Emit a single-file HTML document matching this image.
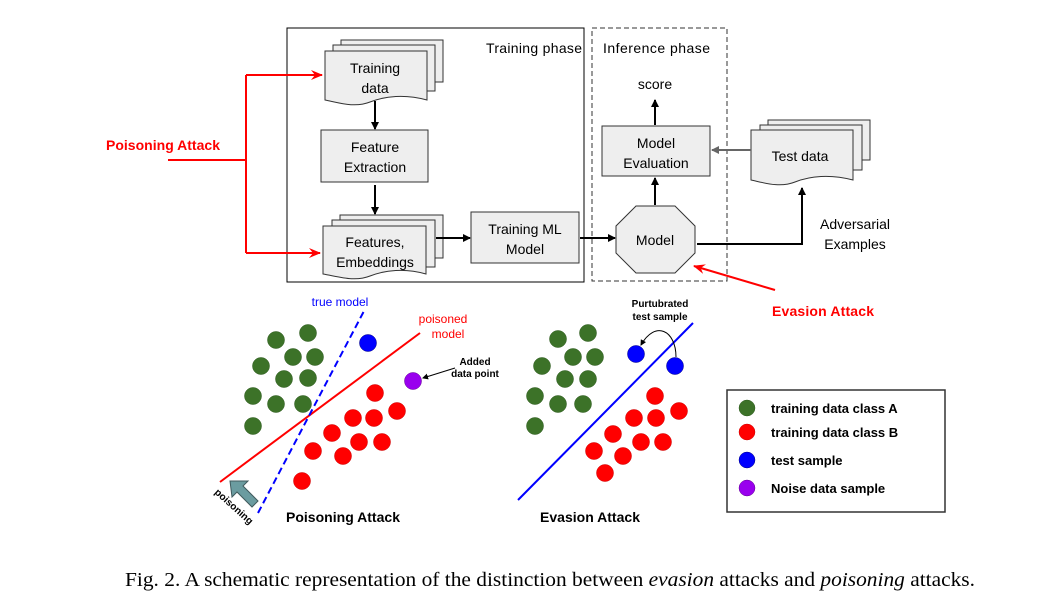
<!DOCTYPE html>
<html><head><meta charset="utf-8"><style>
html,body{margin:0;padding:0;background:#fff;}
svg{display:block;}
text{font-family:"Liberation Sans",sans-serif;}
</style></head><body>
<svg width="1053" height="606" viewBox="0 0 1053 606" xmlns="http://www.w3.org/2000/svg">
<defs>
<marker id="ab" markerWidth="8" markerHeight="8" refX="7" refY="4" orient="auto" markerUnits="userSpaceOnUse"><path d="M0,0 L8,4 L0,8 z" fill="#000"/></marker>
<marker id="ag" markerWidth="8" markerHeight="8" refX="7" refY="4" orient="auto" markerUnits="userSpaceOnUse"><path d="M0,0 L8,4 L0,8 z" fill="#666"/></marker>
<marker id="ar" markerWidth="12" markerHeight="12" refX="11" refY="6" orient="auto" markerUnits="userSpaceOnUse"><path d="M0,1 L12,6 L0,11 L4,6 z" fill="#f00"/></marker>
<marker id="as" markerWidth="6" markerHeight="6" refX="5" refY="3" orient="auto" markerUnits="userSpaceOnUse"><path d="M0,0 L6,3 L0,6 z" fill="#000"/></marker>
</defs>
<rect x="287" y="28" width="297" height="254" fill="none" stroke="#000" stroke-width="1"/>
<rect x="592" y="28" width="135" height="253" fill="none" stroke="#333" stroke-width="1" stroke-dasharray="5,3"/>
<text x="486" y="53" font-size="14" textLength="96">Training phase</text>
<text x="603" y="53" font-size="14" textLength="107">Inference phase</text>
<g stroke="#333" fill="#eee" stroke-width="1">
<rect x="341" y="40" width="102" height="42"/>
<rect x="333" y="45" width="102" height="46"/>
<path d="M325,51 H427 V100 C405,94 385,96 370,102 C355,108 340,103 325,100 Z"/>
<rect x="321" y="130" width="107" height="52"/>
<rect x="340" y="215" width="103" height="43"/>
<rect x="332" y="220" width="103" height="47"/>
<path d="M323,226 H426 V274 C405,268 385,270 370,276 C355,282 340,277 323,274 Z"/>
<rect x="471" y="212" width="108" height="51"/>
<rect x="602" y="126" width="108" height="50"/>
<path d="M636,206 H675 L695,226 V253 L675,273 H636 L616,253 V226 Z"/>
<rect x="768" y="120" width="102" height="40"/>
<rect x="760" y="125" width="102" height="45"/>
<path d="M751,130 H853 V180 C830,174 810,176 795,182 C780,188 765,183 751,180 Z"/>
</g>
<g font-size="14" text-anchor="middle" fill="#000">
<text x="375" y="73">Training</text><text x="375" y="93">data</text>
<text x="375" y="152">Feature</text><text x="375" y="172">Extraction</text>
<text x="375" y="247">Features,</text><text x="375" y="267">Embeddings</text>
<text x="525" y="234">Training ML</text><text x="525" y="254">Model</text>
<text x="656" y="148">Model</text><text x="656" y="168">Evaluation</text>
<text x="655" y="245">Model</text>
<text x="800" y="161">Test data</text>
<text x="655" y="89">score</text>
<text x="855" y="229">Adversarial</text><text x="855" y="249">Examples</text>
</g>
<g stroke="#000" stroke-width="2" fill="none">
<line x1="375" y1="101" x2="375" y2="129" marker-end="url(#ab)"/>
<line x1="375" y1="185" x2="375" y2="214" marker-end="url(#ab)"/>
<line x1="436" y1="238" x2="470" y2="238" marker-end="url(#ab)"/>
<line x1="580" y1="238" x2="615" y2="238" marker-end="url(#ab)"/>
<line x1="655" y1="205" x2="655" y2="178" marker-end="url(#ab)"/>
<line x1="655" y1="125" x2="655" y2="100" marker-end="url(#ab)"/>
<polyline points="697,244 802,244 802,188" marker-end="url(#ab)"/>
</g>
<line x1="751" y1="150" x2="712" y2="150" stroke="#666" stroke-width="2" marker-end="url(#ag)"/>
<text x="106" y="150" font-size="14" font-weight="bold" fill="#f00" textLength="114">Poisoning Attack</text>
<g stroke="#f00" stroke-width="2" fill="none">
<polyline points="168,160 246,160"/>
<polyline points="246,75 246,253"/>
<line x1="246" y1="75" x2="322" y2="75" marker-end="url(#ar)"/>
<line x1="246" y1="253" x2="320" y2="253" marker-end="url(#ar)"/>
<line x1="775" y1="290" x2="694" y2="266" marker-end="url(#ar)"/>
</g>
<text x="772" y="316" font-size="14" font-weight="bold" fill="#f00" textLength="102">Evasion Attack</text>
<rect x="727" y="390" width="218" height="122" fill="#fff" stroke="#333" stroke-width="1.5"/>
<line x1="220" y1="482" x2="420" y2="333" stroke="#f00" stroke-width="2"/>
<line x1="258" y1="513" x2="364" y2="311" stroke="#00f" stroke-width="2" stroke-dasharray="7,4"/>
<g fill="#3c7228" stroke="#2d5a1e" stroke-width="0.5">
<circle cx="276" cy="340" r="8.5"/><circle cx="308" cy="333" r="8.5"/><circle cx="293" cy="357" r="8.5"/><circle cx="315" cy="357" r="8.5"/><circle cx="261" cy="366" r="8.5"/><circle cx="284" cy="379" r="8.5"/><circle cx="308" cy="378" r="8.5"/><circle cx="253" cy="396" r="8.5"/><circle cx="276" cy="404" r="8.5"/><circle cx="303" cy="404" r="8.5"/><circle cx="253" cy="426" r="8.5"/>
<circle cx="558" cy="339" r="8.5"/><circle cx="588" cy="333" r="8.5"/><circle cx="573" cy="357" r="8.5"/><circle cx="595" cy="357" r="8.5"/><circle cx="542" cy="366" r="8.5"/><circle cx="565" cy="379" r="8.5"/><circle cx="588" cy="379" r="8.5"/><circle cx="535" cy="396" r="8.5"/><circle cx="558" cy="404" r="8.5"/><circle cx="583" cy="404" r="8.5"/><circle cx="535" cy="426" r="8.5"/>
<circle cx="747" cy="408" r="8"/>
</g>
<g fill="#f00" stroke="#c00" stroke-width="0.5">
<circle cx="375" cy="393" r="8.5"/><circle cx="397" cy="411" r="8.5"/><circle cx="353" cy="418" r="8.5"/><circle cx="374" cy="418" r="8.5"/><circle cx="332" cy="433" r="8.5"/><circle cx="359" cy="442" r="8.5"/><circle cx="382" cy="442" r="8.5"/><circle cx="313" cy="451" r="8.5"/><circle cx="343" cy="456" r="8.5"/><circle cx="302" cy="481" r="8.5"/>
<circle cx="655" cy="396" r="8.5"/><circle cx="679" cy="411" r="8.5"/><circle cx="634" cy="418" r="8.5"/><circle cx="656" cy="418" r="8.5"/><circle cx="613" cy="434" r="8.5"/><circle cx="641" cy="442" r="8.5"/><circle cx="663" cy="442" r="8.5"/><circle cx="594" cy="451" r="8.5"/><circle cx="623" cy="456" r="8.5"/><circle cx="605" cy="473" r="8.5"/>
<circle cx="747" cy="432" r="8"/>
</g>
<g fill="#00f" stroke="#000080" stroke-width="0.5">
<circle cx="368" cy="343" r="8.5"/><circle cx="636" cy="354" r="8.5"/><circle cx="675" cy="366" r="8.5"/><circle cx="747" cy="460" r="8"/>
</g>
<g fill="#9900ee" stroke="#600090" stroke-width="0.5">
<circle cx="413" cy="381" r="8.5"/><circle cx="747" cy="488" r="8"/>
</g>
<line x1="455" y1="368" x2="423" y2="378" stroke="#000" stroke-width="1" marker-end="url(#as)"/>
<text x="475" y="365" font-size="10" font-weight="bold" text-anchor="middle">Added</text>
<text x="475" y="377" font-size="10" font-weight="bold" text-anchor="middle">data point</text>
<text x="340" y="306" font-size="12" fill="#00f" text-anchor="middle">true model</text>
<text x="443" y="323" font-size="12" fill="#f00" text-anchor="middle">poisoned</text>
<text x="448" y="338" font-size="12" fill="#f00" text-anchor="middle">model</text>
<path d="M230,481 L248,481 L243,486 L258,501 L252,507 L237,492 L232,497 Z" fill="#6b9ca0" stroke="#405a5d" stroke-width="1"/>
<text x="0" y="0" font-size="10" font-weight="bold" transform="translate(214,493) rotate(42)">poisoning</text>
<text x="343" y="522" font-size="14" font-weight="bold" text-anchor="middle" textLength="114">Poisoning Attack</text>
<line x1="518" y1="500" x2="693" y2="323" stroke="#00f" stroke-width="2"/>
<path d="M676,357 C676,330 655,320 641,345" fill="none" stroke="#000" stroke-width="1" marker-end="url(#as)"/>
<text x="660" y="307" font-size="10" font-weight="bold" text-anchor="middle">Purtubrated</text>
<text x="660" y="320" font-size="10" font-weight="bold" text-anchor="middle">test sample</text>
<text x="590" y="522" font-size="14" font-weight="bold" text-anchor="middle" textLength="100">Evasion Attack</text>
<g font-size="13" font-weight="bold">
<text x="771" y="413">training data class A</text>
<text x="771" y="437">training data class B</text>
<text x="771" y="465">test sample</text>
<text x="771" y="493">Noise data sample</text>
</g>
<text x="125" y="586" font-size="20" textLength="850" lengthAdjust="spacingAndGlyphs" style="font-family:'Liberation Serif',serif">Fig. 2.  A schematic representation of the distinction between <tspan font-style="italic">evasion</tspan> attacks and <tspan font-style="italic">poisoning</tspan> attacks.</text>
</svg>
</body></html>
